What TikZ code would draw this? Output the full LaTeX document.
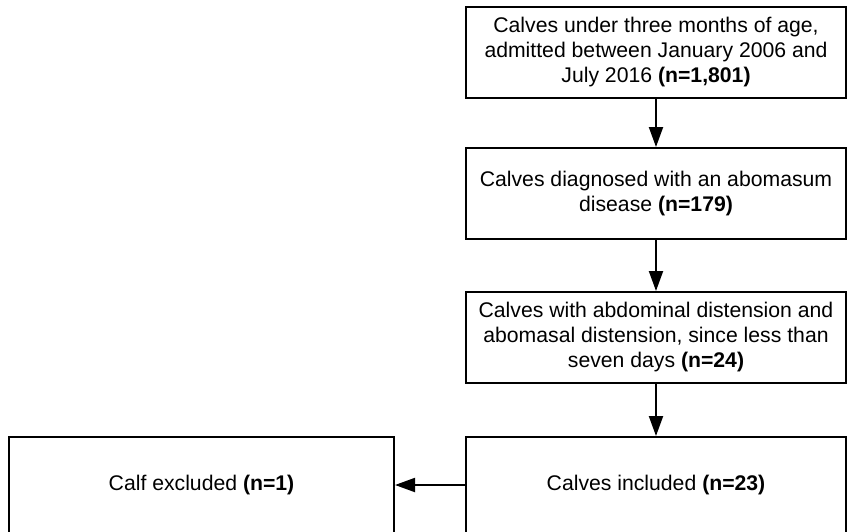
\documentclass[tikz,border=0pt]{standalone}
\usepackage{fontspec}
\setmainfont{Liberation Sans}
\usetikzlibrary{arrows.meta}
\begin{document}
\begin{tikzpicture}[x=1pt,y=1pt,
  box/.style={draw=black, line width=2pt, rectangle, inner sep=0pt, align=center,
    minimum width=380pt, minimum height=91pt, font=\fontsize{21.2}{25}\selectfont},
  conn/.style={line width=2pt, -{Triangle[width=14pt,length=20pt]}}]
\useasboundingbox (0,0) rectangle (847,-531);
\begin{scope}
\clip (0,0) rectangle (847,-531);
\node[box] (b1) at (656,-52.5) {Calves under three months of age,\\admitted between January 2006 and\\July 2016 \textbf{(n=1,801)}};
\node[box] (b2) at (656,-193.5) {Calves diagnosed with an abomasum\\disease \textbf{(n=179)}};
\node[box] (b3) at (656,-337.5) {Calves with abdominal distension and\\abomasal distension, since less than\\seven days \textbf{(n=24)}};
\node[box, minimum height=96pt] (b4) at (656,-485) {Calves included \textbf{(n=23)}};
\node[box, minimum height=96pt, minimum width=385pt] (b5) at (201.5,-485) {Calf excluded \textbf{(n=1)}};
\draw[conn] (b1) -- (b2);
\draw[conn] (b2) -- (b3);
\draw[conn] (b3) -- (b4);
\draw[conn] (b4) -- (b5);
\end{scope}
\end{tikzpicture}
\end{document}
